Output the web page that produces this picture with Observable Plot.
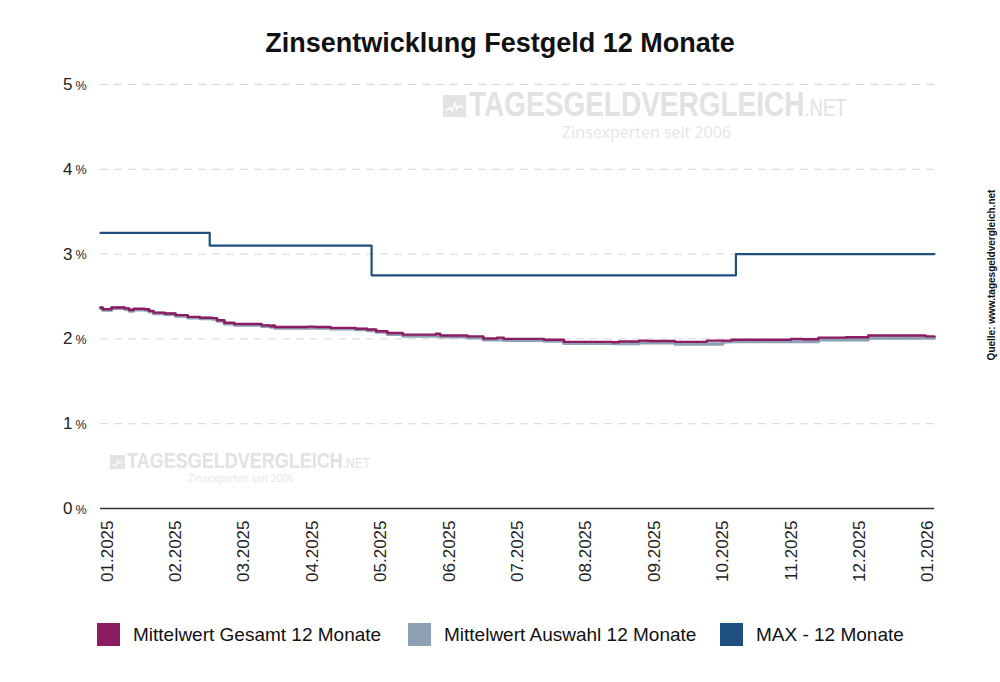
<!DOCTYPE html>
<html><head><meta charset="utf-8">
<script src="https://cdn.jsdelivr.net/npm/d3@7"></script>
<script src="https://cdn.jsdelivr.net/npm/@observablehq/plot@0.6"></script>
<style>
body{margin:0;background:#fff;font-family:Arial,"Liberation Sans",sans-serif;}
#wrap{position:relative;width:1000px;height:682px;overflow:hidden;background:#fff;}
#title{position:absolute;left:0;width:1000px;top:26px;text-align:center;font-weight:bold;font-size:27px;color:#111;line-height:34px;}
.wm{position:absolute;color:#e2e2e2;white-space:nowrap;line-height:1;}
.wmbig{font-weight:bold;transform-origin:0 0;}
.wmsub{font-family:"Open Sans",Arial,sans-serif;color:#e6e6e6;}
.icon{position:absolute;background:#e3e3e3;}
#chart{position:absolute;left:0;top:60px;}
.leg{position:absolute;top:623px;height:23px;display:flex;align-items:center;font-size:19px;color:#111;}
.sw{width:23px;height:23px;margin-right:13px;}
#src{position:absolute;left:991px;top:275px;transform:translate(-50%,-50%) rotate(-90deg);font-size:10px;font-weight:bold;color:#111;white-space:nowrap;}
</style></head><body><div id="wrap">
<div id="title">Zinsentwicklung Festgeld 12 Monate</div>

<div class="icon" style="left:443px;top:95px;width:23px;height:22px;"><svg width="23" height="22"><polyline points="3,15 7,13 9,16 12,8 14,14 16,11 20,12" fill="none" stroke="#fff" stroke-width="1.5"/></svg></div>
<div class="wm wmbig" style="left:469px;top:86px;font-size:35px;transform:scaleX(0.8);">TAGESGELDVERGLEICH<span style="font-size:23px;font-weight:normal;">.NET</span></div>
<div class="wm wmsub" style="left:562px;top:124px;font-size:16px;">Zinsexperten seit 2006</div>

<div class="icon" style="left:110px;top:455px;width:15px;height:14px;"><svg width="15" height="14"><polyline points="2,10 4,9 6,11 8,5 9,9 11,7 13,8" fill="none" stroke="#fff" stroke-width="1"/></svg></div>
<div class="wm wmbig" style="left:127px;top:450px;font-size:22.5px;transform:scaleX(0.8);">TAGESGELDVERGLEICH<span style="font-size:15px;font-weight:normal;">.NET</span></div>
<div class="wm wmsub" style="left:188px;top:473px;font-size:10px;">Zinsexperten seit 2006</div>

<div id="chart"></div>

<div class="leg" style="left:97px;"><div class="sw" style="background:#8B1C62"></div>Mittelwert Gesamt 12 Monate</div>
<div class="leg" style="left:408px;"><div class="sw" style="background:#8EA0B3"></div>Mittelwert Auswahl 12 Monate</div>
<div class="leg" style="left:720px;"><div class="sw" style="background:#1F4F7F"></div>MAX - 12 Monate</div>

<div id="src">Quelle: www.tagesgeldvergleich.net</div>
</div>
<script>
// ---- data ----
const xTickLabels = ["01.2025","02.2025","03.2025","04.2025","05.2025","06.2025","07.2025","08.2025","09.2025","10.2025","11.2025","12.2025","01.2026"];
const yTicks = [0,1,2,3,4,5];

const maxDates  = ["2024-12-29","2025-02-15","2025-04-27","2025-10-07","2026-01-04"];
const maxValues = [3.25, 3.10, 2.75, 3.00, 3.00];

const gesamtDates = ["2024-12-29","2024-12-30","2025-01-03","2025-01-09","2025-01-11","2025-01-13","2025-01-18","2025-01-20","2025-01-22","2025-01-27",
  "2025-02-01","2025-02-06","2025-02-11","2025-02-16","2025-02-18","2025-02-21","2025-02-25","2025-03-09","2025-03-13","2025-03-14","2025-03-15",
  "2025-03-30","2025-04-02","2025-04-09","2025-04-20","2025-04-25","2025-04-29","2025-05-04","2025-05-11","2025-05-26","2025-05-28",
  "2025-06-09","2025-06-16","2025-06-22","2025-06-25","2025-07-13","2025-07-22","2025-08-13","2025-08-16","2025-08-25","2025-08-29",
  "2025-09-10","2025-09-24","2025-10-05","2025-11-01","2025-11-06","2025-11-13","2025-11-25","2025-12-05","2025-12-31","2026-01-04"];
const gesamtValues = [2.37,2.35,2.37,2.36,2.34,2.355,2.35,2.33,2.31,2.30,
  2.28,2.26,2.25,2.245,2.22,2.19,2.175,2.16,2.15,2.16,2.14,
  2.145,2.14,2.13,2.12,2.11,2.09,2.07,2.05,2.06,2.04,
  2.03,2.005,2.015,2.00,1.99,1.965,1.96,1.97,1.98,1.975,
  1.965,1.98,1.99,2.00,1.995,2.015,2.02,2.04,2.03,2.03];

const auswahlDates = ["2024-12-29","2024-12-30","2025-01-03","2025-01-09","2025-01-11","2025-01-13","2025-01-18","2025-01-20","2025-01-22","2025-01-27",
  "2025-02-01","2025-02-06","2025-02-11","2025-02-16","2025-02-18","2025-02-21","2025-02-25","2025-03-09","2025-03-13","2025-03-15",
  "2025-04-02","2025-04-09","2025-04-20","2025-04-25","2025-04-29","2025-05-04","2025-05-11","2025-05-28","2025-06-09","2025-06-16",
  "2025-06-25","2025-07-13","2025-07-22","2025-08-13","2025-08-25","2025-09-10","2025-10-01","2025-10-05","2025-11-06","2025-11-13",
  "2025-12-05","2026-01-04"];
const auswahlValues = [2.36,2.34,2.36,2.35,2.33,2.345,2.34,2.32,2.30,2.29,
  2.27,2.25,2.24,2.235,2.21,2.18,2.165,2.15,2.14,2.13,
  2.13,2.12,2.11,2.10,2.08,2.055,2.035,2.025,2.015,1.99,
  1.985,1.975,1.95,1.945,1.955,1.94,1.965,1.97,1.97,1.99,
  2.01,2.01];

// ---- helpers ----
function toM(s){ const [y,m,d]=s.split("-").map(Number); const dim=new Date(y,m,0).getDate(); return (y-2025)*12+(m-1)+(d-1)/dim; }
const rows = (dates, values) => dates.map((d,i)=>({m:toM(d), v:values[i]}));
const maxData = rows(maxDates, maxValues);
const gesData = rows(gesamtDates, gesamtValues);
const ausData = rows(auswahlDates, auswahlValues);

const chart = Plot.plot({
  width: 1000, height: 555,
  marginLeft: 100, marginRight: 66, marginTop: 24, marginBottom: 107,
  style: {fontFamily: 'Arial, "Liberation Sans", sans-serif', background: "transparent", color: "#222"},
  x: {domain: [toM(gesamtDates[0]), toM(gesamtDates[gesamtDates.length-1])], axis: null},
  y: {domain: [0,5], axis: null},
  marks: [
    Plot.ruleY(yTicks.filter(d=>d>0), {stroke: "#d6d6d6", strokeWidth: 1, strokeDasharray: "8,6"}),
    Plot.ruleY([0], {stroke: "#333", strokeWidth: 1.5}),
    Plot.text(yTicks, {y: d=>d, frameAnchor: "left", text: d=>String(d), textAnchor: "end", dx: -28, fontSize: 17, fill: "#222"}),
    Plot.text(yTicks, {y: d=>d, frameAnchor: "left", text: d=>"%", textAnchor: "end", dx: -14, dy: 1, fontSize: 12.5, fill: "#222"}),
    Plot.axisX(xTickLabels.map((_,i)=>i), {anchor: "bottom", label: null, tickSize: 0, tickPadding: 12, tickRotate: -90, tickFormat: i=>xTickLabels[i], fontSize: 17, fill: "#222"}),
    Plot.line(ausData, {x: "m", y: "v", stroke: "#8EA0B3", strokeWidth: 3.5, curve: "step-after"}),
    Plot.line(gesData, {x: "m", y: "v", stroke: "#8B1C62", strokeWidth: 2.4, curve: "step-after"}),
    Plot.line(maxData, {x: "m", y: "v", stroke: "#1F4F7F", strokeWidth: 2.2, curve: "step-after"})
  ]
});
document.getElementById("chart").appendChild(chart);
</script></body></html>
